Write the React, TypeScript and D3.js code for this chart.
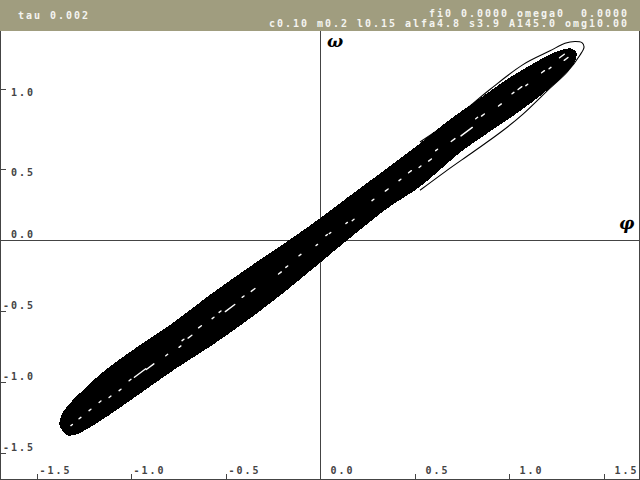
import React from "react";
import * as d3 from "d3";

// Header texts
const headerLeft = "tau 0.002";
const headerRight1 = "fi0 0.0000 omega0  0.0000";
const headerRight2 = "c0.10 m0.2 l0.15 alfa4.8 s3.9 A145.0 omg10.00";

// Ticks (positions, labels as printed)
const xTicks = [-1.5, -1.0, -0.5, 0.0, 0.5, 1.0, 1.5];
const xTickLabels = ["-1.5", "-1.0", "-0.5", " 0.0", " 0.5", " 1.0", " 1.5"];
const yTicks = [1.063, 0.5, 0.0, -0.5, -1.0, -1.5];
const yTickLabels = [" 1.0", " 0.5", " 0.0", "-0.5", "-1.0", "-1.5"];

// Dense attractor band outline (phi, omega): upper edge left->right, then lower edge right->left
const bandUpper: [number, number][] = [
  [-1.354, -1.352], [-1.376, -1.303], [-1.365, -1.232], [-1.323, -1.155], [-1.249, -1.056],
  [-1.138, -0.923], [-0.963, -0.754], [-0.783, -0.592], [-0.571, -0.38], [-0.392, -0.211],
  [-0.212, -0.049], [-0.037, 0.113], [0.175, 0.324], [0.354, 0.5], [0.529, 0.676],
  [0.688, 0.845], [0.847, 0.993], [0.989, 1.127], [1.111, 1.225], [1.217, 1.303],
  [1.286, 1.338], [1.328, 1.345], [1.354, 1.317],
];
const bandLower: [number, number][] = [
  [1.349, 1.268], [1.317, 1.204], [1.259, 1.127], [1.153, 1.007], [1.016, 0.873],
  [0.899, 0.768], [0.741, 0.62], [0.529, 0.38], [0.354, 0.225], [0.122, -0.021],
  [-0.037, -0.197], [-0.212, -0.387], [-0.386, -0.563], [-0.566, -0.732], [-0.778, -0.915],
  [-0.952, -1.077], [-1.127, -1.239], [-1.228, -1.324], [-1.291, -1.366], [-1.333, -1.373],
];

// Outer transient loop
const loopPhi = [0.529, 0.725, 0.899, 1.074, 1.217, 1.296, 1.349, 1.386, 1.397, 1.376, 1.307, 1.217, 1.074, 0.952, 0.81, 0.661, 0.529];
const loopOmega = [0.69, 0.87, 1.06, 1.235, 1.332, 1.385, 1.398, 1.39, 1.36, 1.303, 1.183, 1.07, 0.887, 0.755, 0.62, 0.48, 0.35];

// White gaps inside the band (phi, omega, length)
const gaps: [number, number, number][] = [
  [0.776, 0.763, 0.06], [0.704, 0.704, 0.02], [0.582, 0.563, 0.015], [0.529, 0.516, 0.01],
  [0.476, 0.481, 0.015], [0.423, 0.423, 0.01], [0.353, 0.352, 0.015], [0.28, 0.282, 0.01],
  [0.175, 0.141, 0.01], [0.141, 0.12, 0.008], [0.053, 0.049, 0.008], [0.617, 0.634, 0.01],
  [1.18, 1.185, 0.015], [1.217, 1.211, 0.01], [1.058, 1.07, 0.02], [1.094, 1.092, 0.01],
  [1.021, 1.035, 0.01], [0.952, 0.951, 0.015], [0.862, 0.88, 0.015], [0.829, 0.859, 0.01],
  [1.28, 1.296, 0.025], [1.302, 1.275, 0.02], [0.035, 0.035, 0.008], [-0.017, -0.035, 0.008],
  [-0.106, -0.106, 0.01], [-0.176, -0.188, 0.01], [-0.212, -0.232, 0.015], [-0.354, -0.352, 0.02],
  [-0.407, -0.399, 0.01], [-0.476, -0.479, 0.05], [-0.529, -0.505, 0.01], [-0.566, -0.549, 0.01],
  [-0.635, -0.611, 0.015], [-0.688, -0.681, 0.02], [-0.725, -0.704, 0.01], [-0.741, -0.751, 0.01],
  [-0.811, -0.81, 0.01], [-0.899, -0.892, 0.04], [-0.952, -0.937, 0.06], [-1.005, -0.986, 0.01],
  [-1.058, -1.056, 0.01], [-1.111, -1.104, 0.01], [-1.164, -1.139, 0.01], [-1.217, -1.197, 0.01],
  [-1.27, -1.254, 0.01], [-1.314, -1.303, 0.008],
];

const W = 640;
const H = 480;
const HEADER = 31;

export default function App() {
  const x = d3.scaleLinear().domain([-1.5, 1.5]).range([36.5, 603.5]);
  const y = d3.scaleLinear().domain([-1.5, 1.0]).range([453, 98]);

  const band = [...bandUpper, ...bandLower];
  const bandPath = d3.line<[number, number]>().x((d) => x(d[0])).y((d) => y(d[1])).curve(d3.curveCatmullRomClosed)(band) || "";

  const loopPts: [number, number][] = loopPhi.map((p, i) => [p, loopOmega[i]]);
  const loopPath = d3.line<[number, number]>().x((d) => x(d[0])).y((d) => y(d[1])).curve(d3.curveCatmullRom)(loopPts) || "";

  const axisColor = "#444";
  const mono = "'DejaVu Sans Mono', monospace";
  const charW = 8;

  return (
    <svg width={W} height={H} style={{ position: "absolute", left: 0, top: 0, background: "#fff" }}>
      <rect x={0} y={0} width={W} height={HEADER} fill="#a09d7f" />
      <text x={18} y={19} fill="#f4f4f0" fontFamily={mono} fontWeight="bold" fontSize={10}
        textLength={headerLeft.length * charW - 2} lengthAdjust="spacing" style={{ whiteSpace: "pre" }}>{headerLeft}</text>
      <text x={629 - headerRight1.length * charW} y={17} fill="#f4f4f0" fontFamily={mono} fontWeight="bold" fontSize={10}
        textLength={headerRight1.length * charW - 2} lengthAdjust="spacing" style={{ whiteSpace: "pre" }}>{headerRight1}</text>
      <text x={629 - headerRight2.length * charW} y={27} fill="#f4f4f0" fontFamily={mono} fontWeight="bold" fontSize={10}
        textLength={headerRight2.length * charW - 2} lengthAdjust="spacing" style={{ whiteSpace: "pre" }}>{headerRight2}</text>

      {/* frame */}
      <line x1={0.5} y1={HEADER} x2={0.5} y2={H} stroke={axisColor} />
      <line x1={639.5} y1={HEADER} x2={639.5} y2={H} stroke={axisColor} />
      <line x1={0} y1={479.5} x2={W} y2={479.5} stroke={axisColor} />

      {/* axes through zero */}
      <line x1={Math.round(x(0)) + 0.5} y1={HEADER} x2={Math.round(x(0)) + 0.5} y2={H} stroke={axisColor} />
      <line x1={0} y1={Math.round(y(0)) + 0.5} x2={W} y2={Math.round(y(0)) + 0.5} stroke={axisColor} />

      {/* x ticks */}
      {xTicks.map((t, i) => {
        const px = Math.round(x(t)) + 0.5;
        const s = xTickLabels[i];
        return (
          <g key={"xt" + t}>
            <line x1={px} y1={474} x2={px} y2={480} stroke={axisColor} />
            <text x={px + 2} y={474} fill={axisColor} fontFamily={mono} fontWeight="bold" fontSize={10}
              textLength={s.length * charW - 2} lengthAdjust="spacing" style={{ whiteSpace: "pre" }}>{s}</text>
          </g>
        );
      })}

      {/* y ticks */}
      {yTicks.map((t, i) => {
        const py = Math.round(y(t)) + 0.5;
        const s = yTickLabels[i];
        return (
          <g key={"yt" + t}>
            <line x1={0} y1={py} x2={6} y2={py} stroke={axisColor} />
            <text x={3} y={t > 0 ? py + 6 : py - 3} fill={axisColor} fontFamily={mono} fontWeight="bold" fontSize={10}
              textLength={s.length * charW - 2} lengthAdjust="spacing" style={{ whiteSpace: "pre" }}>{s}</text>
          </g>
        );
      })}

      {/* attractor */}
      <path d={loopPath} fill="none" stroke="#000" strokeWidth={1.1} />
      <path d={bandPath} fill="#000" stroke="#000" strokeWidth={1} shapeRendering="crispEdges" />
      {gaps.map((g, i) => (
        <line key={"g" + i}
          x1={x(g[0] - g[2] / 2)} y1={y(g[1] - g[2] / 2)}
          x2={x(g[0] + g[2] / 2)} y2={y(g[1] + g[2] / 2)}
          stroke="#fff" strokeWidth={1.4} strokeLinecap="round" />
      ))}

      {/* axis labels */}
      <text x={327} y={47} fontFamily="'DejaVu Serif', serif" fontStyle="italic" fontWeight="bold" fontSize={17} fill="#000">ω</text>
      <text x={619} y={229} fontFamily="'DejaVu Serif', serif" fontStyle="italic" fontWeight="bold" fontSize={17} fill="#000">φ</text>
    </svg>
  );
}
